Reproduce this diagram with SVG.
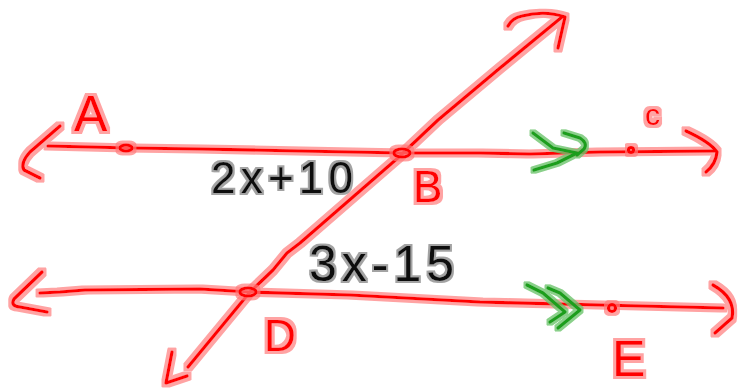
<svg xmlns="http://www.w3.org/2000/svg" width="738" height="389" viewBox="0 0 738 389">
<defs>
<filter id="hr" x="-10%" y="-10%" width="120%" height="120%">
<feMorphology in="SourceAlpha" operator="dilate" radius="2.6" result="d"/>
<feFlood flood-color="#ff7a7a" flood-opacity="0.7"/>
<feComposite in2="d" operator="in" result="h"/>
<feMerge><feMergeNode in="h"/><feMergeNode in="SourceGraphic"/></feMerge>
</filter>
<filter id="hg" x="-10%" y="-10%" width="120%" height="120%">
<feMorphology in="SourceAlpha" operator="dilate" radius="2.2" result="d"/>
<feFlood flood-color="#8c8c8c" flood-opacity="0.8"/>
<feComposite in2="d" operator="in" result="h"/>
<feMerge><feMergeNode in="h"/><feMergeNode in="SourceGraphic"/></feMerge>
</filter>
<filter id="hgr" x="-10%" y="-10%" width="120%" height="120%">
<feMorphology in="SourceAlpha" operator="dilate" radius="2.4" result="d"/>
<feFlood flood-color="#6cc46c" flood-opacity="0.8"/>
<feComposite in2="d" operator="in" result="h"/>
<feMerge><feMergeNode in="h"/><feMergeNode in="SourceGraphic"/></feMerge>
</filter>
</defs>
<style>
.r{fill:none;stroke:#ff0000;stroke-width:3.2;stroke-linecap:round;stroke-linejoin:round}
.g{fill:none;stroke:#1e9e1e;stroke-width:3.2;stroke-linecap:round;stroke-linejoin:round}
.lbl{font-family:"Liberation Sans","DejaVu Sans",sans-serif;fill:#ff0000}
.expr{font-family:"Liberation Sans","DejaVu Sans",sans-serif;fill:#111}
</style>
<rect width="738" height="389" fill="#ffffff"/>
<g id="connectors" filter="url(#hr)">
<path class="r" d="M48,146 L90,147 L130,148 L200,149 L300,151 L403,153 L480,153 L530,154 L600,152 L715,151"/>
<path class="r" d="M60,126 L30,152 Q20,163 24,170 L40,178"/>
<path class="r" d="M686,131 Q710,142 717,152 Q716,164 706,172"/>
<path class="r" d="M40,293 L60,292 L85,290 L200,289 L250,292 L350,295 L480,302 L600,305 L723,308"/>
<path class="r" d="M42,272 L14,299 Q10,306 20,307 L47,312"/>
<path class="r" d="M713,285 Q736,298 732,318 L715,333"/>
<path class="r" d="M188,367 L250,292 L273,270 L287,253 L300,243 L399,157 L403,153 L438,120 L500,68 L562,17"/>
<path class="r" d="M508,26 Q512,18 522,16 Q545,10 565,17 L558,48"/>
<path class="r" d="M172,352 L166,383 L187,376"/>
</g>
<g id="parallel-marks" filter="url(#hgr)">
<path class="g" d="M533,133 L553,148 L577,153 L557,163 L534,170"/>
<path class="g" d="M564,133 L580,138 Q588,143 584,149 L577,155"/>
<path class="g" d="M527,285 L543,293 L565,312 L550,322"/>
<path class="g" d="M548,288 L560,293 L580,310 L558,328"/>
</g>
<g id="node-A" filter="url(#hr)">
<ellipse class="r" cx="126" cy="148" rx="6" ry="3"/>
<text class="lbl" x="74" y="131" font-size="50">A</text>
</g>
<g id="node-B" filter="url(#hr)">
<ellipse class="r" cx="402" cy="153" rx="8" ry="4"/>
<text class="lbl" x="413" y="202" font-size="44">B</text>
</g>
<g id="node-C" filter="url(#hr)">
<circle class="r" cx="631" cy="150" r="2.5"/>
<text class="lbl" x="645" y="125" font-size="30">c</text>
</g>
<g id="node-D" filter="url(#hr)">
<ellipse class="r" cx="248" cy="292" rx="8" ry="4"/>
<text class="lbl" x="264" y="351" font-size="44">D</text>
</g>
<g id="node-E" filter="url(#hr)">
<circle class="r" cx="612" cy="308" r="3.5"/>
<text class="lbl" x="612" y="376" font-size="50">E</text>
</g>
<g id="angle-labels" filter="url(#hg)">
<text class="expr" x="211" y="193" font-size="44" textLength="142" lengthAdjust="spacing">2x+10</text>
<text class="expr" x="309" y="281" font-size="50" textLength="145" lengthAdjust="spacing">3x-15</text>
</g>
</svg>
